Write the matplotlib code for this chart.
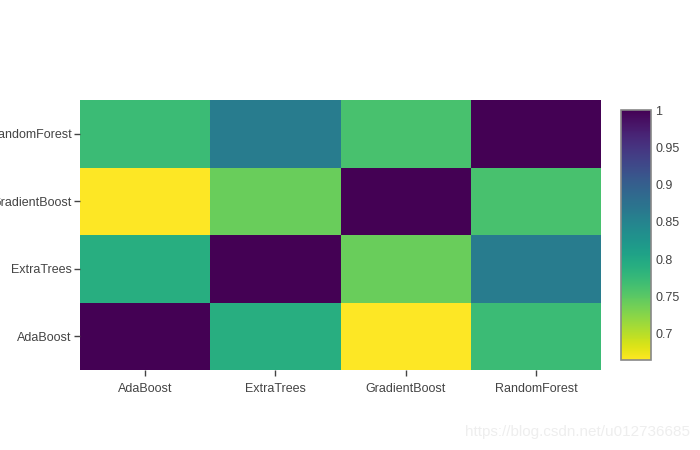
import numpy as np
import matplotlib.pyplot as plt

models = ['AdaBoost', 'ExtraTrees', 'GradientBoost', 'RandomForest']
# correlation matrix, rows/cols in order of models
corr = [
    [1.000, 0.790, 0.665, 0.772],
    [0.790, 1.000, 0.742, 0.860],
    [0.665, 0.742, 1.000, 0.763],
    [0.772, 0.860, 0.763, 1.000],
]
cbar_ticks = [0.7, 0.75, 0.8, 0.85, 0.9, 0.95, 1]

plt.rcParams['font.family'] = ['Liberation Sans', 'DejaVu Sans']
txt = '#444444'

fig = plt.figure(figsize=(7, 4.5), dpi=100)
ax = fig.add_axes([80/700, 1 - 370/450, 521/700, 270/450])

data = np.array(corr)
vmin, vmax = data.min(), data.max()
im = ax.pcolormesh(np.arange(5) - 0.5, np.arange(5) - 0.5, data, cmap='viridis_r',
                   vmin=vmin, vmax=vmax)
ax.set_xlim(-0.5, 3.5)
ax.set_ylim(-0.5, 3.5)
ax.set_xticks(range(4))
ax.set_xticklabels(models)
ax.set_yticks(range(4))
ax.set_yticklabels(models)
for s in ax.spines.values():
    s.set_visible(False)
ax.tick_params(colors=txt, labelcolor=txt, labelsize=9, length=4, width=1, pad=2)
ax.tick_params(axis='x', pad=5)

cax = fig.add_axes([621/700, 1 - 360/450, 30/700, 250/450])
cb = fig.colorbar(im, cax=cax, ticks=cbar_ticks)
cb.ax.set_yticklabels(['0.7', '0.75', '0.8', '0.85', '0.9', '0.95', '1'])
cb.outline.set_edgecolor('#888888')
cb.outline.set_linewidth(1.2)
cb.ax.tick_params(length=0, labelsize=9, colors=txt, labelcolor=txt, pad=3)

fig.text(690/700, 1 - 432/450, 'https://blog.csdn.net/u012736685', ha='right', va='center',
         fontsize=11, color='#eeeeee')

fig.savefig('out.png', dpi=100)
